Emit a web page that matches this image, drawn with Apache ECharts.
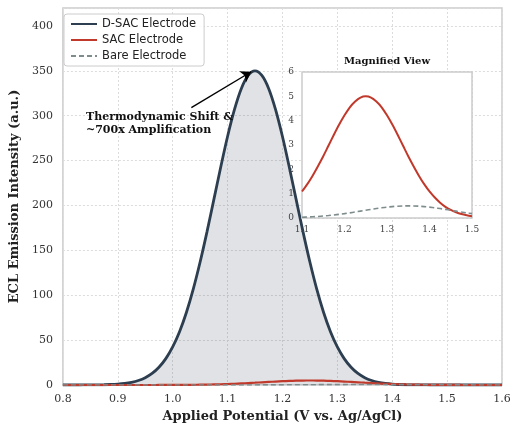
<!DOCTYPE html>
<html>
<head>
<meta charset="utf-8">
<script src="https://cdn.jsdelivr.net/npm/echarts@6/dist/echarts.min.js"></script>
<style>
  html, body { margin: 0; padding: 0; background: #fff; }
  #chart-container { width: 519px; height: 433px; }
</style>
</head>
<body>
<div id="chart-container"></div>
<script>
// data (applied potential in V, intensity in a.u.)
var potential = [0.8, 0.8125, 0.825, 0.8375, 0.85, 0.8625, 0.875, 0.8875, 0.9, 0.9125,
  0.925, 0.9375, 0.95, 0.9625, 0.975, 0.9875, 1.0, 1.0125, 1.025, 1.0375, 1.05, 1.0625,
  1.075, 1.0875, 1.1, 1.1125, 1.125, 1.1375, 1.15, 1.1625, 1.175, 1.1875, 1.2, 1.2125,
  1.225, 1.2375, 1.25, 1.2625, 1.275, 1.2875, 1.3, 1.3125, 1.325, 1.3375, 1.35, 1.3625,
  1.375, 1.3875, 1.4, 1.4125, 1.425, 1.4375, 1.45, 1.4625, 1.475, 1.4875, 1.5, 1.5125,
  1.525, 1.5375, 1.55, 1.5625, 1.575, 1.5875, 1.6];
var dsac = [0.004, 0.008, 0.017, 0.037, 0.075, 0.15, 0.29, 0.55, 0.99, 1.76,
  3.03, 5.06, 8.2, 12.9, 19.8, 29.4, 42.4, 59.4, 80.8, 106.8, 137.0, 170.6,
  206.5, 242.6, 276.8, 306.7, 330.1, 344.9, 350, 344.9, 330.1, 306.7, 276.8, 242.6,
  206.5, 170.6, 137.0, 106.8, 80.8, 59.4, 42.4, 29.4, 19.8, 12.9, 8.2, 5.06,
  3.03, 1.76, 0.99, 0.55, 0.29, 0.15, 0.075, 0.037, 0.017, 0.008, 0.004, 0.002,
  0.001, 0, 0, 0, 0, 0, 0];
var sac = [0, 0, 0, 0, 0, 0, 0, 0, 0.001, 0.002,
  0.004, 0.007, 0.011, 0.019, 0.03, 0.048, 0.073, 0.111, 0.163, 0.237, 0.335, 0.46,
  0.63, 0.84, 1.09, 1.39, 1.74, 2.13, 2.54, 2.98, 3.42, 3.84, 4.22, 4.55,
  4.79, 4.95, 5.0, 4.95, 4.79, 4.55, 4.22, 3.84, 3.42, 2.98, 2.54, 2.13,
  1.74, 1.39, 1.09, 0.84, 0.63, 0.46, 0.335, 0.237, 0.163, 0.111, 0.073, 0.048,
  0.03, 0.019, 0.011, 0.007, 0.004, 0.002, 0.001];
var bare = [0, 0, 0, 0, 0, 0, 0, 0, 0, 0,
  0.0001, 0.0002, 0.0004, 0.0006, 0.0008, 0.0013, 0.0019, 0.0029, 0.0042, 0.006, 0.0084, 0.012,
  0.016, 0.022, 0.029, 0.039, 0.05, 0.0645, 0.0815, 0.102, 0.125, 0.151, 0.18, 0.212,
  0.246, 0.282, 0.318, 0.353, 0.387, 0.419, 0.446, 0.469, 0.486, 0.496, 0.5, 0.496,
  0.486, 0.469, 0.446, 0.419, 0.387, 0.353, 0.318, 0.282, 0.246, 0.212, 0.18, 0.151,
  0.125, 0.102, 0.0815, 0.0645, 0.05, 0.039, 0.029];
var xTicks = [0.8, 1.6, 0.1];
var yTicks = [0, 420, 50];
var insetX = [1.1, 1.5, 0.1];
var insetY = [0, 6, 1];

function pairs(ys, lo, hi) {
  var out = [];
  for (var i = 0; i < potential.length; i++) {
    if (potential[i] >= lo - 1e-9 && potential[i] <= hi + 1e-9) out.push([potential[i], ys[i]]);
  }
  return out;
}

var serif = "DejaVu Serif";
var navy = "#2c3e50", red = "#c0392b", grey = "#7f8c8d";
var gridLine = { show: true, lineStyle: { color: "#dcdcdc", type: [2, 2], width: 1 } };

var chartDom = document.getElementById("chart-container");
var myChart = echarts.init(chartDom);

var option = {
  backgroundColor: "#fff",
  animation: false,
  legend: {
    data: ["D-SAC Electrode", "SAC Electrode", "Bare Electrode"],
    orient: "vertical",
    left: 64,
    top: 14,
    padding: [4, 8, 4, 6],
    itemGap: 4,
    itemWidth: 26,
    itemHeight: 12,
    itemStyle: { opacity: 0 },
    backgroundColor: "rgba(255,255,255,0.85)",
    borderColor: "#cccccc",
    borderWidth: 1,
    borderRadius: 3,
    textStyle: { fontFamily: "DejaVu Sans", fontSize: 11.5, color: "#222" }
  },
  grid: [
    { left: 59, right: 17, top: 8, bottom: 48, show: true, borderColor: "#cccccc", borderWidth: 1.5, z: 0 },
    { left: 302, top: 72, width: 170, height: 146, show: true, backgroundColor: "#fff",
      borderColor: "#cccccc", borderWidth: 1.5, z: 5 }
  ],
  xAxis: [
    {
      type: "value", gridIndex: 0, min: xTicks[0], max: xTicks[1], interval: xTicks[2],
      name: "Applied Potential (V vs. Ag/AgCl)", nameLocation: "middle", nameGap: 21,
      nameTextStyle: { fontFamily: serif, fontWeight: "bold", fontSize: 13, color: "#222" },
      axisLine: { show: false }, axisTick: { show: false },
      axisLabel: { fontFamily: serif, fontSize: 11, color: "#333", margin: 9,
        formatter: function (v) { return v.toFixed(1); } },
      splitLine: gridLine
    },
    {
      type: "value", gridIndex: 1, min: insetX[0], max: insetX[1], interval: insetX[2],
      axisLine: { show: false }, axisTick: { show: false },
      axisLabel: { fontFamily: serif, fontSize: 9, color: "#444", margin: 7,
        formatter: function (v) { return v.toFixed(1); } },
      splitLine: gridLine
    }
  ],
  yAxis: [
    {
      type: "value", gridIndex: 0, min: yTicks[0], max: yTicks[1], interval: yTicks[2],
      name: "ECL Emission Intensity (a.u.)", nameLocation: "middle", nameGap: 38,
      nameTextStyle: { fontFamily: serif, fontWeight: "bold", fontSize: 13, color: "#222" },
      axisLine: { show: false }, axisTick: { show: false },
      axisLabel: { fontFamily: serif, fontSize: 11, color: "#333", margin: 10,
        formatter: function (v) { return v % 50 === 0 ? String(v) : ""; } },
      splitLine: gridLine
    },
    {
      type: "value", gridIndex: 1, min: insetY[0], max: insetY[1], interval: insetY[2],
      axisLine: { show: false }, axisTick: { show: false },
      axisLabel: { fontFamily: serif, fontSize: 9, color: "#444", margin: 8 },
      splitLine: gridLine
    }
  ],
  graphic: [
    {
      type: "text", left: 86, top: 111, z: 20,
      style: { text: "Thermodynamic Shift &\n~700x Amplification", fontFamily: serif,
        fontWeight: "bold", fontSize: 11, lineHeight: 13, fill: "#111" }
    },
    {
      type: "text", left: 344, top: 56, z: 20,
      style: { text: "Magnified View", fontFamily: serif, fontWeight: "bold", fontSize: 10, fill: "#111" }
    }
  ],
  series: [
    {
      name: "D-SAC Electrode", type: "line", xAxisIndex: 0, yAxisIndex: 0,
      data: pairs(dsac, 0.8, 1.6), smooth: 0.3, symbol: "none", z: 3,
      lineStyle: { color: navy, width: 2.8 },
      itemStyle: { color: navy },
      areaStyle: { color: navy, opacity: 0.15 }
    },
    {
      name: "SAC Electrode", type: "line", xAxisIndex: 0, yAxisIndex: 0,
      data: pairs(sac, 0.8, 1.6), smooth: 0.3, symbol: "none", z: 4,
      lineStyle: { color: red, width: 2.2 }, itemStyle: { color: red }
    },
    {
      name: "Bare Electrode", type: "line", xAxisIndex: 0, yAxisIndex: 0,
      data: pairs(bare, 0.8, 1.6), smooth: 0.3, symbol: "none", z: 4,
      lineStyle: { color: grey, width: 1.6, type: [5, 3] }, itemStyle: { color: grey },
      markLine: {
        silent: true, symbol: ["none", "arrow"], symbolSize: 10,
        label: { show: false },
        lineStyle: { color: "#000", width: 1.4, type: "solid" },
        data: [[{ coord: [1.034, 309] }, { coord: [1.143, 349] }]]
      }
    },
    {
      name: "SAC inset", type: "line", xAxisIndex: 1, yAxisIndex: 1,
      data: pairs(sac, 1.1, 1.5), smooth: 0.3, symbol: "none", z: 6,
      lineStyle: { color: red, width: 2 }, itemStyle: { color: red }
    },
    {
      name: "Bare inset", type: "line", xAxisIndex: 1, yAxisIndex: 1,
      data: pairs(bare, 1.1, 1.5), smooth: 0.3, symbol: "none", z: 6,
      lineStyle: { color: grey, width: 1.6, type: [5, 3] }, itemStyle: { color: grey }
    }
  ]
};

myChart.setOption(option);
</script>
</body>
</html>
